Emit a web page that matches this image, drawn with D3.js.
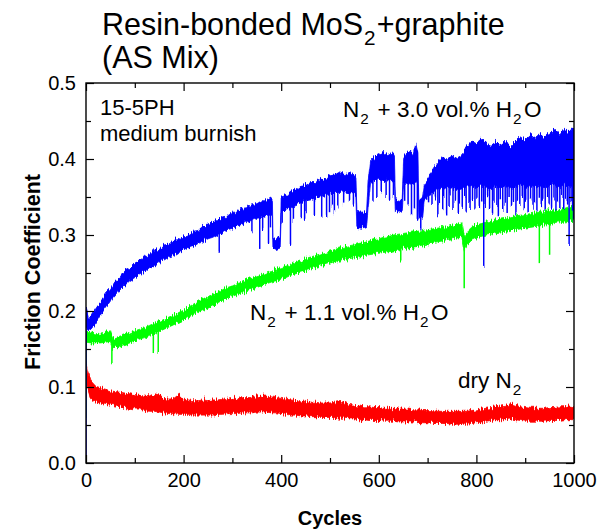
<!DOCTYPE html>
<html>
<head>
<meta charset="utf-8">
<script src="https://cdn.jsdelivr.net/npm/d3@7"></script>
<style>
  body { margin: 0; background: #fff; }
  svg text { font-family: "Liberation Sans", Arial, Helvetica, sans-serif; fill: #000; }
</style>
</head>
<body>
<svg id="chart" width="606" height="530"></svg>
<script>
// Friction traces, each row: [cycle, lower edge of trace, upper edge of trace]
const dryN2 = [
  [0,0.112,0.134],[3,0.098,0.122],[10,0.084,0.108],[20,0.080,0.101],[30,0.079,0.099],
  [40,0.077,0.097],[50,0.076,0.095],[60,0.075,0.094],[70,0.074,0.093],[80,0.073,0.092],
  [90,0.072,0.091],[100,0.071,0.090],[110,0.071,0.089],[120,0.069,0.088],[130,0.068,0.087],
  [140,0.068,0.090],[150,0.067,0.088],[160,0.066,0.085],[170,0.065,0.084],[180,0.065,0.085],
  [190,0.064,0.090],[200,0.064,0.084],[210,0.064,0.083],[220,0.063,0.082],[230,0.063,0.082],
  [240,0.063,0.083],[250,0.063,0.082],[260,0.063,0.083],[270,0.064,0.083],[280,0.064,0.084],
  [290,0.065,0.084],[300,0.065,0.085],[310,0.065,0.085],[320,0.066,0.086],[330,0.066,0.086],
  [340,0.066,0.087],[350,0.067,0.087],[360,0.067,0.088],[370,0.067,0.088],[380,0.066,0.087],
  [390,0.066,0.086],[400,0.065,0.085],[410,0.064,0.084],[420,0.063,0.083],[430,0.063,0.082],
  [440,0.062,0.082],[450,0.062,0.081],[460,0.061,0.080],[470,0.061,0.080],[480,0.060,0.079],
  [490,0.060,0.079],[500,0.060,0.079],[510,0.060,0.080],[520,0.059,0.081],[530,0.059,0.080],
  [540,0.058,0.077],[550,0.058,0.076],[560,0.057,0.075],[570,0.057,0.074],[580,0.056,0.074],
  [590,0.056,0.073],[600,0.056,0.073],[610,0.055,0.072],[620,0.055,0.072],[630,0.055,0.072],
  [640,0.054,0.071],[650,0.054,0.071],[660,0.054,0.071],[670,0.054,0.070],[680,0.053,0.070],
  [690,0.053,0.069],[700,0.053,0.069],[710,0.052,0.069],[720,0.052,0.068],[730,0.052,0.068],
  [740,0.052,0.068],[750,0.051,0.068],[760,0.051,0.068],[770,0.051,0.068],[780,0.051,0.068],
  [790,0.052,0.069],[800,0.053,0.070],[810,0.054,0.071],[820,0.055,0.072],[830,0.056,0.073],
  [840,0.057,0.074],[850,0.057,0.075],[860,0.057,0.076],[870,0.058,0.078],[880,0.057,0.076],
  [890,0.056,0.074],[900,0.055,0.073],[910,0.055,0.072],[920,0.055,0.072],[930,0.055,0.072],
  [940,0.055,0.072],[950,0.056,0.073],[960,0.056,0.073],[970,0.056,0.074],[980,0.057,0.074],
  [990,0.057,0.075],[1000,0.057,0.074]
];

const humid11 = [
  [0,0.159,0.172],[10,0.158,0.171],[20,0.158,0.170],[30,0.158,0.171],[40,0.159,0.172],
  [50,0.160,0.174],[55,0.150,0.163],[60,0.152,0.165],[70,0.154,0.167],[80,0.156,0.169],
  [90,0.158,0.171],[100,0.160,0.174],[110,0.163,0.176],[120,0.165,0.178],[130,0.168,0.181],
  [140,0.170,0.184],[150,0.173,0.186],[160,0.176,0.189],[170,0.179,0.192],[180,0.182,0.195],
  [190,0.185,0.198],[200,0.188,0.201],[210,0.192,0.205],[220,0.195,0.209],[230,0.199,0.213],
  [240,0.202,0.216],[250,0.205,0.219],[260,0.208,0.222],[270,0.211,0.225],[280,0.214,0.228],
  [290,0.217,0.231],[300,0.219,0.233],[310,0.222,0.236],[320,0.224,0.238],[330,0.227,0.241],
  [340,0.229,0.243],[350,0.231,0.245],[360,0.233,0.247],[370,0.236,0.250],[380,0.238,0.252],
  [390,0.240,0.255],[400,0.242,0.257],[410,0.244,0.259],[420,0.247,0.262],[430,0.249,0.264],
  [440,0.251,0.266],[450,0.253,0.269],[460,0.255,0.271],[470,0.257,0.273],[480,0.259,0.275],
  [490,0.261,0.277],[500,0.263,0.279],[510,0.265,0.281],[520,0.267,0.283],[530,0.268,0.284],
  [540,0.269,0.286],[550,0.270,0.287],[560,0.271,0.289],[570,0.273,0.290],[580,0.274,0.292],
  [590,0.275,0.294],[600,0.276,0.295],[610,0.277,0.297],[620,0.278,0.298],[630,0.279,0.300],
  [640,0.280,0.301],[650,0.282,0.302],[660,0.283,0.303],[670,0.284,0.304],[680,0.285,0.305],
  [690,0.287,0.306],[700,0.288,0.307],[710,0.290,0.308],[720,0.291,0.309],[730,0.292,0.310],
  [740,0.294,0.311],[750,0.295,0.313],[760,0.296,0.314],[770,0.297,0.316],[775,0.280,0.298],
  [780,0.286,0.304],[790,0.293,0.310],[800,0.296,0.313],[810,0.298,0.315],[820,0.300,0.317],
  [830,0.301,0.318],[840,0.303,0.320],[850,0.304,0.321],[860,0.305,0.322],[870,0.306,0.324],
  [880,0.307,0.325],[890,0.308,0.326],[900,0.309,0.327],[910,0.310,0.328],[920,0.311,0.329],
  [930,0.312,0.330],[940,0.313,0.331],[950,0.314,0.332],[960,0.315,0.333],[970,0.316,0.334],
  [980,0.317,0.335],[990,0.318,0.337],[1000,0.319,0.338]
];

const humid30 = [
  [0,0.178,0.205],[5,0.174,0.192],[10,0.176,0.193],[20,0.184,0.203],[30,0.195,0.212],
  [40,0.204,0.223],[50,0.213,0.229],[60,0.220,0.239],[70,0.228,0.245],[80,0.234,0.253],
  [90,0.240,0.256],[100,0.244,0.263],[110,0.249,0.266],[120,0.252,0.272],[130,0.257,0.274],
  [140,0.260,0.280],[150,0.264,0.281],[160,0.267,0.287],[170,0.271,0.288],[180,0.273,0.293],
  [190,0.277,0.294],[200,0.279,0.299],[210,0.283,0.300],[220,0.285,0.305],[230,0.289,0.306],
  [240,0.291,0.312],[250,0.295,0.313],[260,0.297,0.318],[270,0.301,0.319],[280,0.303,0.324],
  [290,0.307,0.325],[300,0.309,0.330],[310,0.312,0.330],[320,0.314,0.335],[330,0.318,0.336],
  [340,0.319,0.341],[350,0.322,0.341],[360,0.323,0.345],[370,0.326,0.345],[380,0.326,0.349],
  [382,0.325,0.347],[383,0.283,0.297],[390,0.281,0.295],[398,0.283,0.298],[400,0.329,0.350],
  [410,0.334,0.352],[420,0.336,0.358],[430,0.340,0.359],[440,0.342,0.364],[450,0.345,0.365],
  [460,0.346,0.369],[470,0.349,0.369],[480,0.350,0.373],[490,0.353,0.374],[500,0.354,0.378],
  [510,0.356,0.379],[520,0.356,0.383],[530,0.357,0.381],[540,0.355,0.382],[550,0.356,0.379],
  [553,0.352,0.378],[555,0.310,0.331],[565,0.309,0.330],[575,0.311,0.331],[578,0.335,0.370],
  [583,0.368,0.398],[590,0.370,0.402],[600,0.372,0.406],[610,0.372,0.409],[620,0.371,0.405],
  [628,0.370,0.408],[632,0.368,0.404],[634,0.331,0.347],[642,0.330,0.344],[648,0.332,0.348],
  [651,0.368,0.402],[660,0.368,0.411],[670,0.366,0.406],[676,0.370,0.420],[680,0.366,0.408],
  [682,0.322,0.345],[690,0.325,0.350],[693,0.345,0.365],[700,0.350,0.372],[710,0.356,0.386],
  [720,0.360,0.396],[730,0.363,0.402],[740,0.361,0.400],[750,0.362,0.404],[760,0.360,0.401],
  [770,0.362,0.405],[780,0.364,0.416],[790,0.365,0.424],[800,0.362,0.420],[810,0.366,0.427],
  [820,0.363,0.421],[830,0.361,0.418],[840,0.364,0.422],[850,0.362,0.419],[860,0.365,0.424],
  [870,0.361,0.416],[880,0.363,0.423],[890,0.366,0.429],[900,0.362,0.425],[910,0.365,0.432],
  [920,0.362,0.427],[930,0.366,0.434],[940,0.363,0.429],[950,0.365,0.434],[960,0.367,0.440],
  [970,0.363,0.433],[980,0.366,0.439],[990,0.364,0.436],[1000,0.367,0.442]
];

// Short downward excursions: [cycle, lowest friction reached]
const humid11Drops = [
  [0,0.055],[53,0.130],[138,0.146],[148,0.146],[645,0.265],[775,0.230],[929,0.263],[950,0.274]
];
const humid30Drops = [
  [0,0.0],[273,0.278],[340,0.305],[356,0.283],[362,0.306],[374,0.289],[378,0.310],
  [402,0.316],[419,0.287],[425,0.320],[441,0.322],[448,0.320],[451,0.330],[468,0.325],
  [483,0.324],[493,0.324],[499,0.330],[509,0.330],[516,0.335],[505,0.340],[528,0.340],
  [540,0.345],[548,0.340],[588,0.345],[596,0.350],[605,0.355],[615,0.350],[622,0.345],
  [630,0.350],[653,0.345],[660,0.340],[667,0.326],[673,0.335],[679,0.320],[686,0.307],
  [698,0.345],[702,0.343],[705,0.352],[709,0.338],[716,0.348],[721,0.326],[724,0.342],
  [731,0.334],[733,0.350],[739,0.327],[744,0.338],[746,0.352],[752,0.333],[757,0.345],
  [763,0.329],[765,0.340],[771,0.336],[776,0.350],[779,0.331],[785,0.342],[787,0.333],
  [792,0.346],[797,0.335],[801,0.349],[806,0.337],[811,0.344],[815,0.258],[818,0.338],
  [823,0.351],[827,0.334],[833,0.328],[836,0.345],[842,0.338],[845,0.326],[849,0.347],
  [854,0.333],[859,0.341],[863,0.329],[867,0.350],[872,0.337],[876,0.344],[881,0.327],
  [884,0.345],[889,0.338],[894,0.350],[898,0.334],[901,0.345],[906,0.331],[911,0.348],
  [916,0.336],[919,0.343],[924,0.331],[929,0.349],[933,0.338],[936,0.345],[941,0.333],
  [946,0.350],[949,0.340],[954,0.336],[959,0.348],[963,0.332],[966,0.344],[971,0.337],
  [975,0.350],[979,0.333],[983,0.345],[987,0.340],[990,0.287],[994,0.343],[997,0.332],
  [999,0.320]
];

const xMajorTicks = [0, 200, 400, 600, 800, 1000];
const xMinorTicks = [100, 300, 500, 700, 900];
const yMajorTicks = [0.0, 0.1, 0.2, 0.3, 0.4, 0.5];
const yMinorTicks = [0.05, 0.15, 0.25, 0.35, 0.45];

const svg = d3.select("#chart");
const plotLeft = 86, plotRight = 574, plotTop = 83, plotBottom = 463;

const x = d3.scaleLinear().domain([0, 1000]).range([plotLeft, plotRight]);
const y = d3.scaleLinear().domain([0, 0.5]).range([plotBottom, plotTop]);

const defs = svg.append("defs");
defs.append("clipPath").attr("id", "plotClip")
  .append("rect").attr("x", plotLeft).attr("y", plotTop)
  .attr("width", plotRight - plotLeft).attr("height", plotBottom - plotTop);

// Fine vertical jitter so the trace edges read as a sampled, noisy signal
const jitter = defs.append("filter").attr("id", "traceJitter")
  .attr("filterUnits", "userSpaceOnUse")
  .attr("x", 0).attr("y", 0).attr("width", 606).attr("height", 530);
jitter.append("feTurbulence").attr("type", "fractalNoise")
  .attr("baseFrequency", "0.9 0.07").attr("numOctaves", 2).attr("seed", 7)
  .attr("result", "grain");
jitter.append("feColorMatrix").attr("in", "grain").attr("type", "matrix")
  .attr("values", "0 0 0 0 0.5  0 1 0 0 0  0 0 1 0 0  0 0 0 0 1")
  .attr("result", "grainY");
jitter.append("feDisplacementMap").attr("in", "SourceGraphic").attr("in2", "grainY")
  .attr("scale", 9).attr("xChannelSelector", "R").attr("yChannelSelector", "G");

const plot = svg.append("g").attr("clip-path", "url(#plotClip)");

function edgeAt(rows, c, idx) {
  const i = d3.bisector(d => d[0]).left(rows, c);
  if (i <= 0) return rows[0][idx];
  if (i >= rows.length) return rows[rows.length - 1][idx];
  const a = rows[i - 1], b = rows[i];
  const t = (c - a[0]) / (b[0] - a[0] || 1);
  return a[idx] + t * (b[idx] - a[idx]);
}

function drawTrace(rows, drops, color) {
  const g = plot.append("g").attr("filter", "url(#traceJitter)");
  const area = d3.area().x(d => x(d[0])).y0(d => y(d[1])).y1(d => y(d[2]));
  g.append("path").datum(rows).attr("d", area)
    .attr("fill", color).attr("stroke", color).attr("stroke-width", 0.8)
    .attr("stroke-linejoin", "round");
  g.selectAll("line.drop").data(drops).join("line")
    .attr("class", "drop")
    .attr("x1", d => x(d[0])).attr("x2", d => x(d[0]))
    .attr("y1", d => y(d[1]))
    .attr("y2", d => y(edgeAt(rows, d[0], 2)))
    .attr("stroke", color).attr("stroke-width", 1.5);
}

drawTrace(dryN2, [], "#ff0000");
drawTrace(humid11, humid11Drops, "#00ff00");
drawTrace(humid30, humid30Drops, "#0000ff");

// Axes with inward ticks on all four sides
const axG = svg.append("g");
function styleAxis(g) {
  g.select(".domain").remove();
  g.selectAll(".tick line").attr("stroke", "#000").attr("stroke-width", 1.2);
  g.selectAll(".tick text").attr("font-size", 20).attr("fill", "#000")
    .attr("font-family", "Liberation Sans, Arial, sans-serif");
}
axG.append("g").attr("transform", `translate(0,${plotBottom})`)
  .call(d3.axisBottom(x).tickValues(xMajorTicks).tickSize(-8).tickPadding(10).tickFormat(d3.format("d")))
  .call(styleAxis);
axG.append("g").attr("transform", `translate(0,${plotBottom})`)
  .call(d3.axisBottom(x).tickValues(xMinorTicks).tickSize(-5).tickFormat(""))
  .call(styleAxis);
axG.append("g").attr("transform", `translate(0,${plotTop})`)
  .call(d3.axisTop(x).tickValues(xMajorTicks).tickSize(-8).tickFormat(""))
  .call(styleAxis);
axG.append("g").attr("transform", `translate(0,${plotTop})`)
  .call(d3.axisTop(x).tickValues(xMinorTicks).tickSize(-5).tickFormat(""))
  .call(styleAxis);
axG.append("g").attr("transform", `translate(${plotLeft},0)`)
  .call(d3.axisLeft(y).tickValues(yMajorTicks).tickSize(-8).tickPadding(10).tickFormat(d3.format(".1f")))
  .call(styleAxis);
axG.append("g").attr("transform", `translate(${plotLeft},0)`)
  .call(d3.axisLeft(y).tickValues(yMinorTicks).tickSize(-5).tickFormat(""))
  .call(styleAxis);
axG.append("g").attr("transform", `translate(${plotRight},0)`)
  .call(d3.axisRight(y).tickValues(yMajorTicks).tickSize(-8).tickFormat(""))
  .call(styleAxis);
axG.append("g").attr("transform", `translate(${plotRight},0)`)
  .call(d3.axisRight(y).tickValues(yMinorTicks).tickSize(-5).tickFormat(""))
  .call(styleAxis);

svg.append("rect").attr("x", plotLeft).attr("y", plotTop)
  .attr("width", plotRight - plotLeft).attr("height", plotBottom - plotTop)
  .attr("fill", "none").attr("stroke", "#000").attr("stroke-width", 1.4);

// Text with subscripts
function richText(xPos, yPos, size, parts, gap) {
  const t = svg.append("text").attr("x", xPos).attr("y", yPos).attr("font-size", size);
  const subSize = size * 0.68, shift = size * 0.32, pad = gap || 0;
  parts.forEach((p, i) => {
    const ts = t.append("tspan").text(p.t);
    if (p.sub) {
      ts.attr("font-size", subSize).attr("dy", shift).attr("dx", 1);
    } else if (i > 0 && parts[i - 1].sub) {
      ts.attr("dy", -shift).attr("dx", pad);
    }
  });
  return t;
}

richText(102, 35, 30.5, [{t: "Resin-bonded MoS"}, {t: "2", sub: true}, {t: "+graphite"}], 1);
richText(102, 68, 30.5, [{t: "(AS Mix)"}]);

richText(100, 115, 22, [{t: "15-5PH"}]);
richText(100, 141, 22, [{t: "medium burnish"}]);
richText(343, 117, 22.5, [{t: "N"}, {t: "2", sub: true}, {t: " + 3.0 vol.% H"}, {t: "2", sub: true}, {t: "O"}], 2.5);
richText(250, 320, 22.5, [{t: "N"}, {t: "2", sub: true}, {t: " + 1.1 vol.% H"}, {t: "2", sub: true}, {t: "O"}], 2.5);
richText(458, 388, 22.5, [{t: "dry N"}, {t: "2", sub: true}], 2.5);

svg.append("text").attr("x", (plotLeft + plotRight) / 2).attr("y", 525)
  .attr("text-anchor", "middle").attr("font-size", 20).attr("font-weight", "bold")
  .text("Cycles");
svg.append("text")
  .attr("transform", `translate(40,${(plotTop + plotBottom) / 2 - 1}) rotate(-90)`)
  .attr("text-anchor", "middle").attr("font-size", 21.5).attr("font-weight", "bold")
  .text("Friction Coefficient");
</script>
</body>
</html>
